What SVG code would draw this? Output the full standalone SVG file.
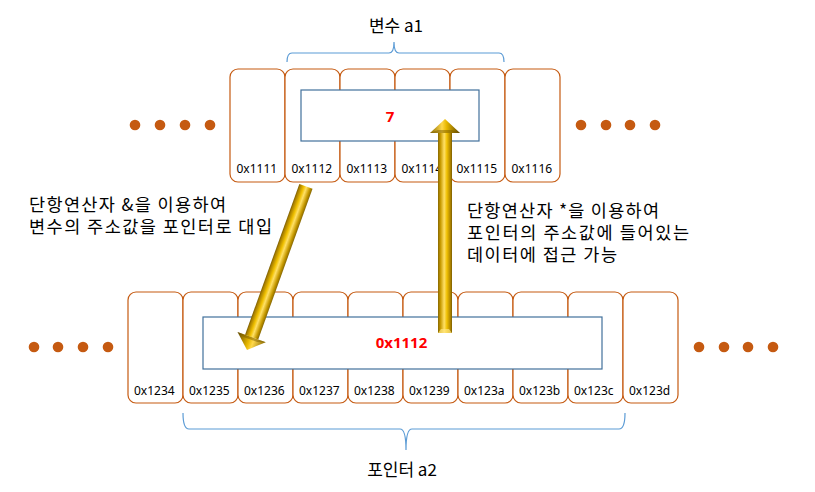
<svg xmlns="http://www.w3.org/2000/svg" width="815" height="492" viewBox="0 0 815 492">
<style>
.cell{fill:#fff;stroke:#C55A11;stroke-width:1.2}
.box{fill:#fff;stroke:#41719C;stroke-width:1.2}
.lbl{font-family:"Noto Sans","Liberation Sans",sans-serif;font-size:12px;fill:#000}
.val{font-family:"Noto Sans","Liberation Sans",sans-serif;font-size:15px;font-weight:bold;fill:#FF0000;text-anchor:middle}
.kr{font-family:"Noto Sans CJK KR","Noto Sans",sans-serif;font-size:17px;fill:#000}
.para{font-family:"Noto Sans CJK KR","Noto Sans",sans-serif;font-size:17.5px;fill:#000}
.brace{fill:none;stroke:#5B9BD5;stroke-width:1.2}
.dot{fill:#C55A11}
</style>
<defs>
<linearGradient id="gold" gradientUnits="userSpaceOnUse" x1="-8" y1="0" x2="8" y2="0">
<stop offset="0" stop-color="#6E5400"/>
<stop offset="0.22" stop-color="#C79A00"/>
<stop offset="0.45" stop-color="#FFE066"/>
<stop offset="0.62" stop-color="#F0C000"/>
<stop offset="0.85" stop-color="#A87F00"/>
<stop offset="1" stop-color="#5C4500"/>
</linearGradient>
<linearGradient id="goldHead" gradientUnits="userSpaceOnUse" x1="-15" y1="0" x2="15" y2="0">
<stop offset="0" stop-color="#8A6A00"/>
<stop offset="0.4" stop-color="#FFD84A"/>
<stop offset="0.55" stop-color="#E8B800"/>
<stop offset="1" stop-color="#5C4500"/>
</linearGradient>
</defs>

<!-- variable a1 cells -->
<g id="a1-cells">
<g id="cell-1111"><rect class="cell" x="230" y="69" width="55" height="113" rx="8"/><text class="lbl" x="236.5" y="173">0x1111</text></g>
<g id="cell-1112"><rect class="cell" x="285" y="69" width="55" height="113" rx="8"/><text class="lbl" x="291.5" y="173">0x1112</text></g>
<g id="cell-1113"><rect class="cell" x="340" y="69" width="55" height="113" rx="8"/><text class="lbl" x="346.5" y="173">0x1113</text></g>
<g id="cell-1114"><rect class="cell" x="395" y="69" width="55" height="113" rx="8"/><text class="lbl" x="401.5" y="173">0x1114</text></g>
<g id="cell-1115"><rect class="cell" x="450" y="69" width="55" height="113" rx="8"/><text class="lbl" x="456.5" y="173">0x1115</text></g>
<g id="cell-1116"><rect class="cell" x="505" y="69" width="55" height="113" rx="8"/><text class="lbl" x="511.5" y="173">0x1116</text></g>
</g>
<g id="a1-value"><rect class="box" x="301" y="90" width="178" height="51"/><text class="val" x="390" y="122">7</text></g>

<!-- pointer a2 cells -->
<g id="a2-cells">
<g id="cell-1234"><rect class="cell" x="128" y="292" width="55" height="111" rx="8"/><text class="lbl" x="134" y="395">0x1234</text></g>
<g id="cell-1235"><rect class="cell" x="183" y="292" width="55" height="111" rx="8"/><text class="lbl" x="189" y="395">0x1235</text></g>
<g id="cell-1236"><rect class="cell" x="238" y="292" width="55" height="111" rx="8"/><text class="lbl" x="244" y="395">0x1236</text></g>
<g id="cell-1237"><rect class="cell" x="293" y="292" width="55" height="111" rx="8"/><text class="lbl" x="299" y="395">0x1237</text></g>
<g id="cell-1238"><rect class="cell" x="348" y="292" width="55" height="111" rx="8"/><text class="lbl" x="354" y="395">0x1238</text></g>
<g id="cell-1239"><rect class="cell" x="403" y="292" width="55" height="111" rx="8"/><text class="lbl" x="409" y="395">0x1239</text></g>
<g id="cell-123a"><rect class="cell" x="458" y="292" width="55" height="111" rx="8"/><text class="lbl" x="464" y="395">0x123a</text></g>
<g id="cell-123b"><rect class="cell" x="513" y="292" width="55" height="111" rx="8"/><text class="lbl" x="519" y="395">0x123b</text></g>
<g id="cell-123c"><rect class="cell" x="568" y="292" width="55" height="111" rx="8"/><text class="lbl" x="574" y="395">0x123c</text></g>
<g id="cell-123d"><rect class="cell" x="623" y="292" width="55" height="111" rx="8"/><text class="lbl" x="629" y="395">0x123d</text></g>
</g>
<g id="a2-value"><rect class="box" x="203" y="317" width="399" height="52"/><text class="val" x="401.5" y="348">0x1112</text></g>

<!-- ellipsis dots -->
<g id="dots">
<circle class="dot" cx="135" cy="125" r="5.3"/><circle class="dot" cx="160" cy="125" r="5.3"/><circle class="dot" cx="185" cy="125" r="5.3"/><circle class="dot" cx="210" cy="125" r="5.3"/>
<circle class="dot" cx="581" cy="125" r="5.3"/><circle class="dot" cx="606" cy="125" r="5.3"/><circle class="dot" cx="630" cy="125" r="5.3"/><circle class="dot" cx="655" cy="125" r="5.3"/>
<circle class="dot" cx="34" cy="347" r="5.3"/><circle class="dot" cx="58" cy="347" r="5.3"/><circle class="dot" cx="83" cy="347" r="5.3"/><circle class="dot" cx="108" cy="347" r="5.3"/>
<circle class="dot" cx="699" cy="347" r="5.3"/><circle class="dot" cx="724" cy="347" r="5.3"/><circle class="dot" cx="748" cy="347" r="5.3"/><circle class="dot" cx="773" cy="347" r="5.3"/>
</g>

<!-- braces and titles -->
<g id="a1-label">
<path class="brace" d="M287,62 Q287,53 292,53 L389,53 Q394,53 394,42 Q394,53 399,53 L499,53 Q504,53 504,62"/>
<text class="kr" x="396" y="32" text-anchor="middle">변수 a1</text>
</g>
<g id="a2-label">
<path class="brace" d="M183,413 Q183,429 189,429 L400,429 Q406,429 406,450 Q406,429 412,429 L619,429 Q625,429 625,413"/>
<text class="kr" x="402" y="476" text-anchor="middle">포인터 a2</text>
</g>

<!-- explanations -->
<g id="note-address">
<text class="para" x="29" y="211" textLength="197" lengthAdjust="spacing">단항연산자 &amp;을 이용하여</text>
<text class="para" x="29" y="233" textLength="243" lengthAdjust="spacing">변수의 주소값을 포인터로 대입</text>
</g>
<g id="note-deref">
<text class="para" x="467" y="217" textLength="192" lengthAdjust="spacing">단항연산자 *을 이용하여</text>
<text class="para" x="467" y="239" textLength="222" lengthAdjust="spacing">포인터의 주소값에 들어있는</text>
<text class="para" x="467" y="261" textLength="150" lengthAdjust="spacing">데이터에 접근 가능</text>
</g>

<!-- connectors -->
<g id="connectors">
<g id="arrow-ref" transform="translate(247,350) rotate(199.8)">
<path d="M-7,13.7 L7,13.7 L7,174 L-7,174 Z" fill="url(#gold)"/>
<path d="M0,0 L15,13.7 L-15,13.7 Z" fill="url(#goldHead)"/>
<path d="M-15,13.7 L-7,11 L7,11 L15,13.7 Z" fill="#7A5C00" opacity="0.5"/>
</g>
<g id="arrow-deref" transform="translate(445,119)">
<path d="M-7,14 L7,14 L7,214 L-7,214 Z" fill="url(#gold)"/>
<path d="M-7,214 L7,214 L4,210 L-4,210 Z" fill="#FFE680" opacity="0.7"/>
<path d="M0,0 L15,14 L-15,14 Z" fill="url(#goldHead)"/>
<path d="M-15,14 L-7,11 L7,11 L15,14 Z" fill="#7A5C00" opacity="0.5"/>
</g>
</g>
</svg>
